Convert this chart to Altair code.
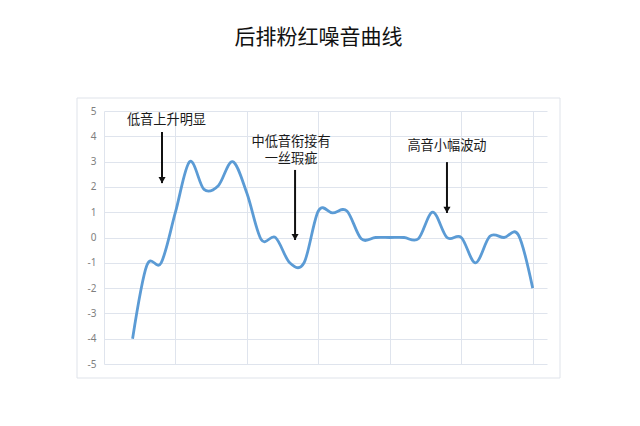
import altair as alt
import pandas as pd

# Curve values (29 frequency points)
idx = list(range(29))
values = [-4.0, -1.1, -1.0, 1.0, 3.0, 1.9, 2.05, 3.0, 1.75, -0.08,
          0.0, -1.0, -1.0, 1.05, 0.97, 1.05, -0.05, 0.0, 0.0, 0.0,
          -0.05, 1.0, 0.0, 0.0, -1.0, 0.05, 0.0, 0.1, -2.0]

# Annotations
ann_text = ["低音上升明显", "中低音衔接有\n一丝瑕疵", "高音小幅波动"]
ann_x = [2.37, 11.09, 22.0]
ann_y = [4.64, 3.79, 3.62]

arrow_x = [2.06, 11.37, 22.0]
arrow_top = [4.17, 2.67, 2.98]
arrow_bottom = [2.15, -0.1, 0.97]

y_ticks = [-5, -4, -3, -2, -1, 0, 1, 2, 3, 4, 5]
x_grid = [-2, 3, 8, 13, 18, 23, 28]

df = pd.DataFrame({"i": idx, "v": values})
ann = pd.DataFrame({"x": ann_x, "y": ann_y, "t": ann_text})
arr = pd.DataFrame({"x": arrow_x, "y1": arrow_top, "y2": arrow_bottom})
arr["yh"] = arr["y2"] + 0.12

grid_c = "#dfe4ed"
xs = alt.Scale(domain=[-2, 29], nice=False, zero=False)
ys = alt.Scale(domain=[-5, 5], nice=False, zero=False)

xaxis = alt.Axis(values=x_grid, tickCount=len(x_grid), labels=False, ticks=False,
                 domain=False, grid=True, gridColor=grid_c, gridWidth=1, title=None)
yaxis = alt.Axis(values=y_ticks, tickCount=len(y_ticks), ticks=False, domain=False,
                 grid=True, gridColor=grid_c, gridWidth=1, title=None,
                 labelColor="#7f7f7f", labelFontSize=10, labelFont="Noto Sans",
                 labelPadding=8, labelOverlap=False,
                 labelExpr="datum.value < 0 ? '-' + abs(datum.value) : '' + datum.value")

frame = alt.Chart(pd.DataFrame({"a": [0]})).mark_rect(
    fill=None, stroke="#dfe3ea", strokeWidth=1
).encode(x=alt.value(-27), x2=alt.value(456), y=alt.value(-13), y2=alt.value(267))

line = alt.Chart(df).mark_line(
    interpolate="cardinal", color="#5b9bd5", strokeWidth=2.8
).encode(
    x=alt.X("i:Q", scale=xs, axis=xaxis),
    y=alt.Y("v:Q", scale=ys, axis=yaxis),
)

texts = alt.Chart(ann).mark_text(
    font="Noto Sans CJK SC", fontSize=13.2, color="#1a1a1a", baseline="middle",
    align="center", lineBreak="\n", lineHeight=17
).encode(
    x=alt.X("x:Q", scale=xs), y=alt.Y("y:Q", scale=ys), text="t:N"
)

shafts = alt.Chart(arr).mark_rule(color="#111111", strokeWidth=2).encode(
    x=alt.X("x:Q", scale=xs), y=alt.Y("y1:Q", scale=ys), y2="y2:Q"
)
heads = alt.Chart(arr).mark_point(
    shape="triangle-down", filled=True, color="#111111", size=50, opacity=1
).encode(
    x=alt.X("x:Q", scale=xs), y=alt.Y("yh:Q", scale=ys)
)

chart = alt.layer(frame, line, shafts, heads, texts).properties(
    width=443, height=253,
    title=alt.TitleParams("后排粉红噪音曲线", font="Noto Sans CJK SC", fontSize=21,
                          fontWeight="normal", color="#111111", anchor="middle",
                          offset=50, dx=-7),
    autosize=alt.AutoSizeParams(type="none"),
    padding={"left": 96, "top": 103, "right": 85, "bottom": 54},
).configure_view(stroke=None)

chart.save("out.html", embed_options={"renderer": "svg", "actions": False})
